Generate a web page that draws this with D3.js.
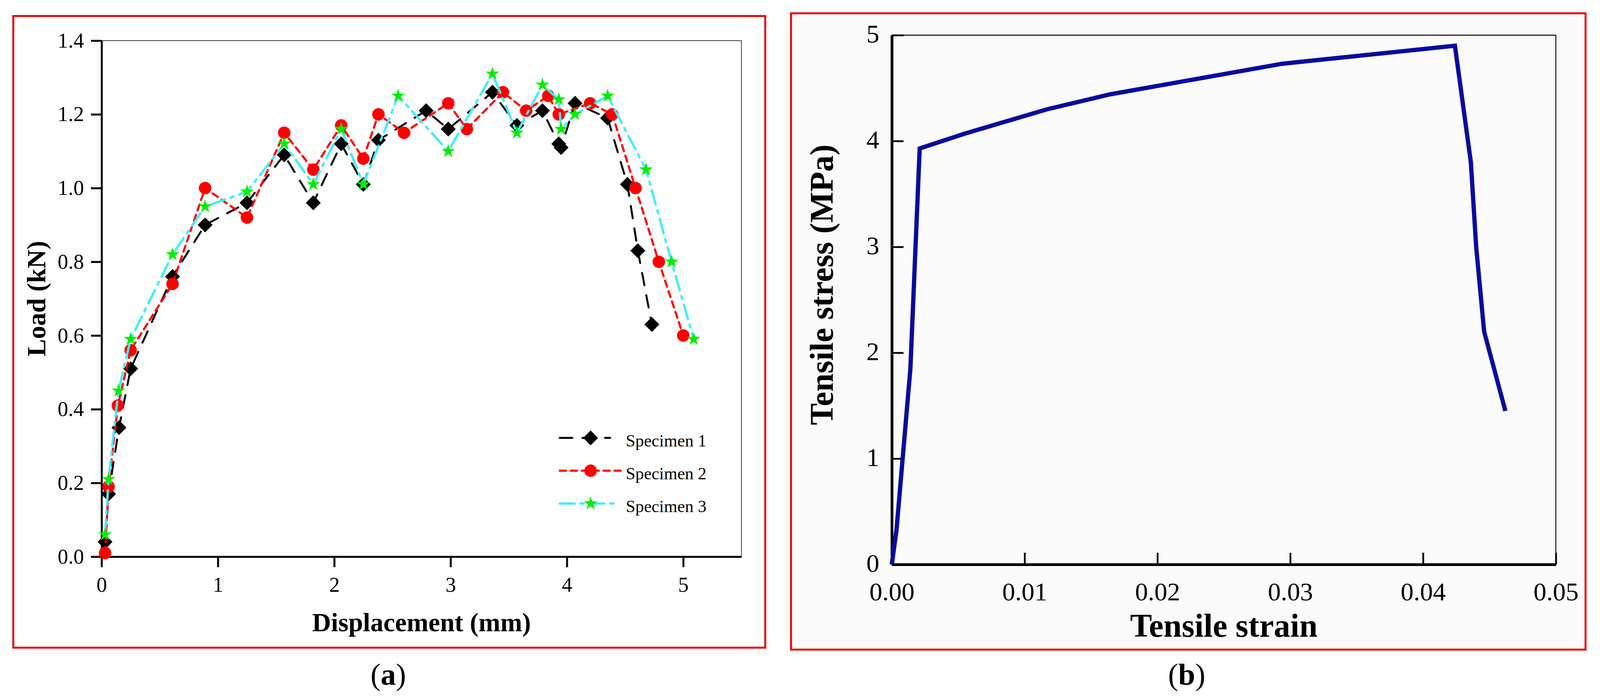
<!DOCTYPE html>
<html>
<head>
<meta charset="utf-8">
<script src="https://cdn.jsdelivr.net/npm/d3@7"></script>
<style>
  body { margin: 0; background: #fff; }
  svg { display: block; }
</style>
</head>
<body>
<div id="chart"></div>
<script>
// ---- data, panel (a) ----
var dispTicks = [0, 1, 2, 3, 4, 5];
var loadTicks = [0, 0.2, 0.4, 0.6, 0.8, 1.0, 1.2, 1.4];
var seriesNames = ["Specimen 1", "Specimen 2", "Specimen 3"];

var spec1X = [0.03, 0.06, 0.15, 0.25, 0.61, 0.89, 1.25, 1.57, 1.82, 2.06, 2.25, 2.38, 2.79, 2.98, 3.36, 3.57, 3.79, 3.93, 3.95, 4.07, 4.35, 4.52, 4.61, 4.73];
var spec1Y = [0.04, 0.17, 0.35, 0.51, 0.76, 0.90, 0.96, 1.09, 0.96, 1.12, 1.01, 1.13, 1.21, 1.16, 1.26, 1.17, 1.21, 1.12, 1.11, 1.23, 1.19, 1.01, 0.83, 0.63];

var spec2X = [0.03, 0.06, 0.14, 0.25, 0.61, 0.89, 1.25, 1.57, 1.82, 2.06, 2.25, 2.38, 2.60, 2.98, 3.14, 3.45, 3.65, 3.84, 3.93, 4.20, 4.39, 4.59, 4.79, 5.00];
var spec2Y = [0.01, 0.19, 0.41, 0.56, 0.74, 1.00, 0.92, 1.15, 1.05, 1.17, 1.08, 1.20, 1.15, 1.23, 1.16, 1.26, 1.21, 1.25, 1.20, 1.23, 1.20, 1.00, 0.80, 0.60];

var spec3X = [0.03, 0.06, 0.145, 0.25, 0.61, 0.89, 1.25, 1.57, 1.82, 2.06, 2.25, 2.55, 2.98, 3.36, 3.57, 3.79, 3.93, 3.95, 4.07, 4.35, 4.68, 4.90, 5.09];
var spec3Y = [0.06, 0.21, 0.45, 0.59, 0.82, 0.95, 0.99, 1.12, 1.01, 1.16, 1.01, 1.25, 1.10, 1.31, 1.15, 1.28, 1.24, 1.16, 1.20, 1.25, 1.05, 0.80, 0.59];

// ---- data, panel (b) ----
var strainTicks = [0, 0.01, 0.02, 0.03, 0.04, 0.05];
var stressTicks = [0, 1, 2, 3, 4, 5];
var strainX = [0, 0.00035, 0.0014, 0.0021, 0.0055, 0.0117, 0.0164, 0.0294, 0.0424, 0.0436, 0.0440, 0.0446, 0.0462];
var stressY = [0, 0.32, 1.85, 3.93, 4.07, 4.30, 4.44, 4.73, 4.90, 3.80, 3.00, 2.20, 1.45];

var serif = "'Liberation Serif', 'Times New Roman', serif";

var svg = d3.select("#chart")
    .append("svg")
    .attr("width", 4097)
    .attr("height", 1792);

svg.append("rect").attr("width", 4097).attr("height", 1792).attr("fill", "#fff");

// ================= panel (a) =================
svg.append("rect")
    .attr("x", 34).attr("y", 41).attr("width", 1925).attr("height", 1617)
    .attr("fill", "#fff").attr("stroke", "#ee0000").attr("stroke-width", 5);

var xA = d3.scaleLinear().domain([0, 5.5]).range([260, 1898]);
var yA = d3.scaleLinear().domain([0, 1.4]).range([1425, 104]);

// frame: thin top/right, thick left/bottom
svg.append("line").attr("x1", xA(0)).attr("x2", xA(5.5)).attr("y1", yA(1.4)).attr("y2", yA(1.4))
    .attr("stroke", "#000").attr("stroke-width", 1.5);
svg.append("line").attr("x1", xA(5.5)).attr("x2", xA(5.5)).attr("y1", yA(1.4)).attr("y2", yA(0))
    .attr("stroke", "#000").attr("stroke-width", 1.5);

var gxA = svg.append("g")
    .attr("transform", "translate(0," + yA(0) + ")")
    .call(d3.axisBottom(xA).tickValues(dispTicks).tickFormat(d3.format("d"))
        .tickSize(27).tickPadding(25).tickSizeOuter(0));
var gyA = svg.append("g")
    .attr("transform", "translate(" + xA(0) + ",0)")
    .call(d3.axisLeft(yA).tickValues(loadTicks).tickFormat(d3.format(".1f"))
        .tickSize(27).tickPadding(18).tickSizeOuter(0));

[gxA, gyA].forEach(function (g) {
    g.attr("font-family", serif).attr("font-size", 54);
    g.select(".domain").attr("stroke", "#000").attr("stroke-width", 5);
    g.selectAll(".tick line").attr("stroke", "#000").attr("stroke-width", 5);
    g.selectAll(".tick text").attr("fill", "#000");
});

// axis titles
svg.append("text")
    .attr("x", (xA(0) + xA(5.5)) / 2).attr("y", 1616)
    .attr("text-anchor", "middle")
    .style("font-family", serif).style("font-weight", "bold").style("font-size", "67px")
    .text("Displacement (mm)");

svg.append("text")
    .attr("transform", "translate(116," + (yA(0) + yA(1.4)) / 2 + ") rotate(-90)")
    .attr("text-anchor", "middle")
    .style("font-family", serif).style("font-weight", "bold").style("font-size", "67px")
    .text("Load (kN)");

// series
var seriesStyle = [
    { xs: spec1X, ys: spec1Y, stroke: "#000000", dash: "32,26", width: 5, fill: "#000000", shape: "diamond" },
    { xs: spec2X, ys: spec2Y, stroke: "#ff0000", dash: "16,12", width: 5.5, fill: "#ff0000", shape: "circle" },
    { xs: spec3X, ys: spec3Y, stroke: "#40eeff", dash: "38,15,8,15", width: 6, fill: "#00ee00", shape: "star" }
];

function markerPath(shape) {
    if (shape === "diamond") return d3.symbol().type(d3.symbolSquare).size(729)();
    if (shape === "circle") return d3.symbol().type(d3.symbolCircle).size(804)();
    return d3.symbol().type(d3.symbolStar).size(380)();
}

var lineA = d3.line()
    .x(function (d) { return xA(d[0]); })
    .y(function (d) { return yA(d[1]); });

seriesStyle.forEach(function (s) {
    var pts = s.xs.map(function (x, i) { return [x, s.ys[i]]; });
    svg.append("path")
        .datum(pts)
        .attr("d", lineA)
        .attr("fill", "none")
        .attr("stroke", s.stroke)
        .attr("stroke-width", s.width)
        .attr("stroke-dasharray", s.dash)
        .attr("stroke-linecap", "round");
    svg.append("g").selectAll("path")
        .data(pts)
        .join("path")
        .attr("d", markerPath(s.shape))
        .attr("transform", function (d) {
            return "translate(" + xA(d[0]) + "," + yA(d[1]) + ")" + (s.shape === "diamond" ? " rotate(45)" : "");
        })
        .attr("fill", s.fill);
});

// legend
var legend = svg.append("g").attr("transform", "translate(1433,1121)");
seriesStyle.forEach(function (s, i) {
    var row = legend.append("g").attr("transform", "translate(0," + (i * 84) + ")");
    row.append("line")
        .attr("x1", 0).attr("x2", i === 0 ? 129 : (i === 1 ? 159 : 144))
        .attr("y1", 0).attr("y2", 0)
        .attr("stroke", s.stroke).attr("stroke-width", s.width)
        .attr("stroke-dasharray", s.dash).attr("stroke-linecap", "round");
    row.append("path")
        .attr("d", markerPath(s.shape))
        .attr("transform", "translate(79,0)" + (s.shape === "diamond" ? " rotate(45)" : ""))
        .attr("fill", s.fill);
    row.append("text")
        .attr("x", 169).attr("y", 22)
        .style("font-family", serif).style("font-size", "44px")
        .text(seriesNames[i]);
});

// caption
var capA = svg.append("text")
    .attr("x", 994).attr("y", 1753)
    .attr("text-anchor", "middle")
    .style("font-family", serif).style("font-size", "78px");
capA.append("tspan").text("(");
capA.append("tspan").style("font-weight", "bold").text("a");
capA.append("tspan").text(")");

// ================= panel (b) =================
svg.append("rect")
    .attr("x", 2025).attr("y", 34).attr("width", 2034).attr("height", 1629)
    .attr("fill", "#fbfbfb").attr("stroke", "#ee0000").attr("stroke-width", 5);

var xB = d3.scaleLinear().domain([0, 0.05]).range([2283, 3983]);
var yB = d3.scaleLinear().domain([0, 5]).range([1445, 90]);

svg.append("line").attr("x1", xB(0)).attr("x2", xB(0.05)).attr("y1", yB(5)).attr("y2", yB(5))
    .attr("stroke", "#000").attr("stroke-width", 2.3);
svg.append("line").attr("x1", xB(0.05)).attr("x2", xB(0.05)).attr("y1", yB(5)).attr("y2", yB(0))
    .attr("stroke", "#000").attr("stroke-width", 2.3);

var gxB = svg.append("g")
    .attr("transform", "translate(0," + yB(0) + ")")
    .call(d3.axisBottom(xB).tickValues(strainTicks).tickFormat(d3.format(".2f"))
        .tickSizeInner(-30).tickSizeOuter(0).tickPadding(45));
var gyB = svg.append("g")
    .attr("transform", "translate(" + xB(0) + ",0)")
    .call(d3.axisLeft(yB).tickValues(stressTicks).tickFormat(d3.format("d"))
        .tickSizeInner(-30).tickSizeOuter(0).tickPadding(32));

[gxB, gyB].forEach(function (g) {
    g.attr("font-family", serif).attr("font-size", 66);
    g.select(".domain").attr("stroke", "#000").attr("stroke-width", 7);
    g.selectAll(".tick line").attr("stroke", "#000").attr("stroke-width", 4.5);
    g.selectAll(".tick text").attr("fill", "#000");
});
gyB.selectAll(".tick text").attr("dy", "0.28em");

svg.append("text")
    .attr("x", (xB(0) + xB(0.05)) / 2).attr("y", 1630)
    .attr("text-anchor", "middle")
    .style("font-family", serif).style("font-weight", "bold").style("font-size", "84px")
    .text("Tensile strain");

svg.append("text")
    .attr("transform", "translate(2132,729) rotate(-90)")
    .attr("text-anchor", "middle")
    .style("font-family", serif).style("font-weight", "bold").style("font-size", "84px")
    .text("Tensile stress (MPa)");

var lineB = d3.line()
    .x(function (d) { return xB(d[0]); })
    .y(function (d) { return yB(d[1]); });

svg.append("path")
    .datum(strainX.map(function (x, i) { return [x, stressY[i]]; }))
    .attr("d", lineB)
    .attr("fill", "none")
    .attr("stroke", "#0a0a9e")
    .attr("stroke-width", 11)
    .attr("stroke-linejoin", "miter");

var capB = svg.append("text")
    .attr("x", 3038).attr("y", 1753)
    .attr("text-anchor", "middle")
    .style("font-family", serif).style("font-size", "78px");
capB.append("tspan").text("(");
capB.append("tspan").style("font-weight", "bold").text("b");
capB.append("tspan").text(")");
</script>
</body>
</html>
